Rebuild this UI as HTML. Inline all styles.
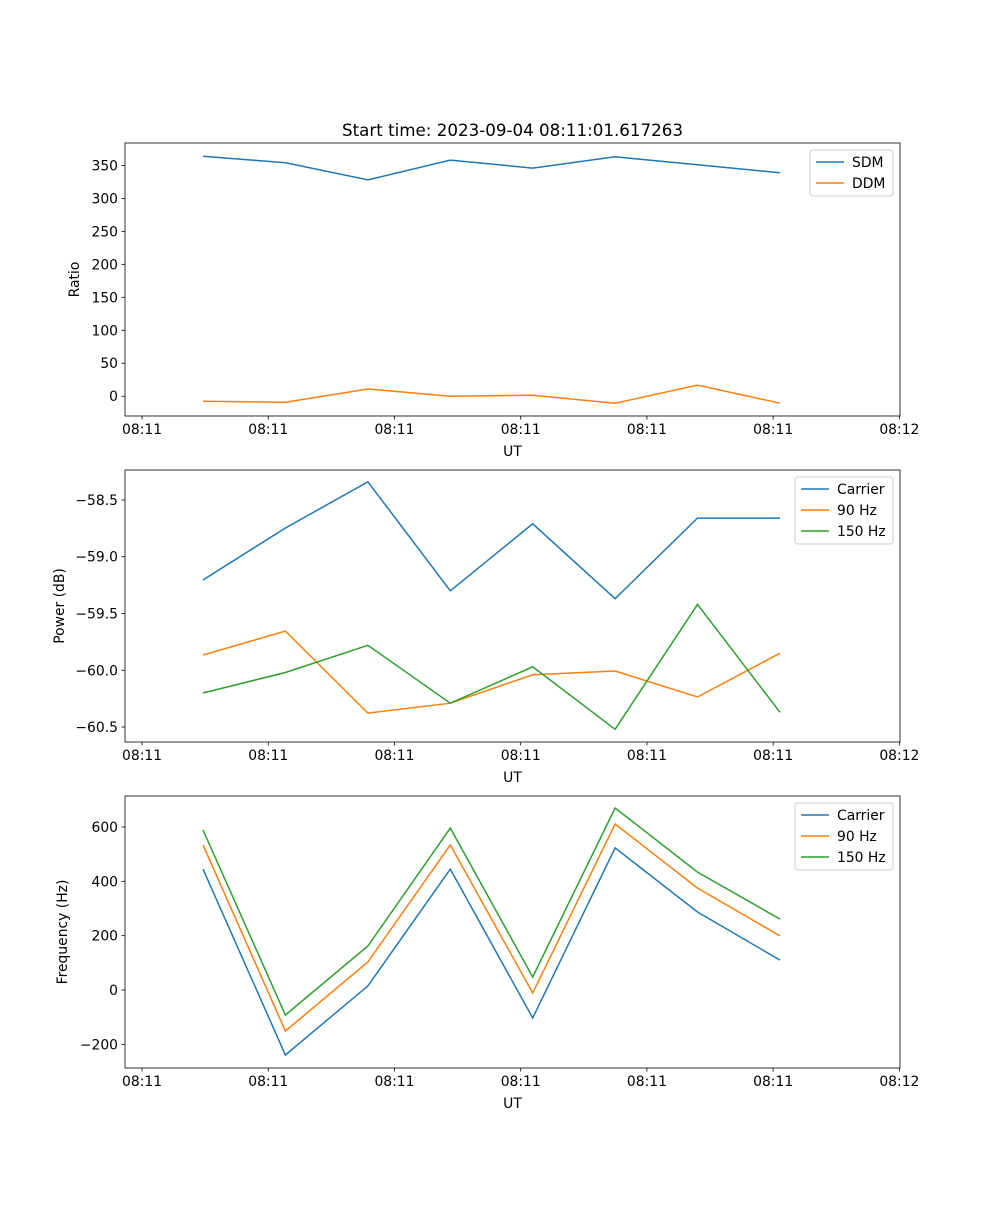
<!DOCTYPE html>
<html><head><meta charset="utf-8"><style>
body{margin:0;background:#fff}
svg{font-family:"DejaVu Sans","Liberation Sans",sans-serif}
</style></head><body>
<svg id="c" width="1000" height="1200" xmlns="http://www.w3.org/2000/svg"></svg>
<script>
const times=[4.83,11.36,17.89,24.42,30.95,37.48,44.01,50.54];
const xTickVals=[0,10,20,30,40,50,60];
const xTickLabels=["08:11","08:11","08:11","08:11","08:11","08:11","08:12"];
const sdm=[364,354,328,358,346,363,351,339];
const ddm=[-7.6,-9,11,0,1.5,-10.6,16.7,-10.6];
const powCarrier=[-59.205,-58.747,-58.34,-59.30,-58.71,-59.37,-58.66,-58.66];
const pow90=[-59.866,-59.655,-60.377,-60.29,-60.04,-60.007,-60.236,-59.85];
const pow150=[-60.20,-60.02,-59.78,-60.29,-59.97,-60.52,-59.42,-60.37];
const freqCarrier=[445,-239,15,445,-103,523,287,110];
const freq90=[534,-151,103,534,-11,611,375,199];
const freq150=[589,-92,162,596,48,670,434,261];
const ratioTicks=[0,50,100,150,200,250,300,350];
const powTicks=[-60.5,-60.0,-59.5,-59.0,-58.5];
const freqTicks=[-200,0,200,400,600];

const NS="http://www.w3.org/2000/svg";
const svg=document.getElementById('c');
function el(t,a,p){const e=document.createElementNS(NS,t);for(const k in a)e.setAttribute(k,a[k]);(p||svg).appendChild(e);return e;}
const L=125,R=900,xMin=-1.35,xMax=60.05;
const xs=v=>L+(v-xMin)/(xMax-xMin)*(R-L);
const FS=13.9;

function panel(name,top,bot,yMin,yMax,yTicks,fmt,ylabel,series,legend,title){
  const g=el('g',{});
  
  
  const ys=v=>bot-(v-yMin)/(yMax-yMin)*(bot-top);
  series.forEach(s=>{
    const pts=times.map((t,i)=>xs(t).toFixed(1)+','+ys(s.vals[i]).toFixed(1)).join(' ');
    const pl=el('polyline',{points:pts,fill:'none',stroke:s.color,'stroke-width':1.5},g);
    
    
  });
  const fr=el('rect',{x:L,y:top,width:R-L,height:bot-top,fill:'none',stroke:'#000','stroke-width':0.8},g);
  
  
  xTickVals.forEach((v,i)=>{
    const x=xs(v);
    el('line',{x1:x,x2:x,y1:bot,y2:bot+3.5,stroke:'#000','stroke-width':0.8},g);
    const t=el('text',{x:x,y:bot+18,'font-size':FS,'text-anchor':'middle'},g);
    t.textContent=xTickLabels[i];
    
    
  });
  yTicks.forEach(v=>{
    const y=ys(v);
    el('line',{x1:L,x2:L-3.5,y1:y,y2:y,stroke:'#000','stroke-width':0.8},g);
    const t=el('text',{x:L-7,y:y+5,'font-size':FS,'text-anchor':'end'},g);
    t.textContent=fmt(v);
    
    
  });
  const xl=el('text',{x:(L+R)/2,y:bot+40,'font-size':FS,'text-anchor':'middle'},g);
  xl.textContent='UT';
  
  
  const cy=(top+bot)/2;
  const yl=el('text',{x:0,y:0,'font-size':FS,'text-anchor':'middle',transform:`translate(${legend.ylx},${cy}) rotate(-90)`},g);
  yl.textContent=ylabel;
  
  
  if(title){
    const tt=el('text',{x:(L+R)/2,y:top-7,'font-size':16.7,'text-anchor':'middle'},g);
    tt.textContent=title;
    
    
  }
  const lg=el('g',{},g);
  
  
  el('rect',{x:legend.x,y:top+7,width:893-legend.x,height:series.length*21+4,rx:3,fill:'#fff',stroke:'#ccc','stroke-width':1},lg);
  series.forEach((s,i)=>{
    const y=top+19+i*21;
    el('line',{x1:legend.x+6,x2:legend.x+34,y1:y,y2:y,stroke:s.color,'stroke-width':1.5},lg);
    const t=el('text',{x:legend.x+42,y:y+5,'font-size':FS},lg);
    t.textContent=s.label;
    
    
  });
}
const B='#1f77b4',O='#ff7f0e',G='#2ca02c';
panel('ratio',143,416,-30,384,ratioTicks,v=>String(v),'Ratio',
  [{key:'sdm',label:'SDM',vals:sdm,color:B},{key:'ddm',label:'DDM',vals:ddm,color:O}],
  {x:810,ylx:79},'Start time: 2023-09-04 08:11:01.617263');
panel('power',470,742,-60.632,-58.236,powTicks,v=>(v<0?'\u2212':'')+Math.abs(v).toFixed(1),'Power (dB)',
  [{key:'carrier',label:'Carrier',vals:powCarrier,color:B},{key:'90hz',label:'90 Hz',vals:pow90,color:O},{key:'150hz',label:'150 Hz',vals:pow150,color:G}],
  {x:795,ylx:64});
panel('frequency',796,1068,-287,714,freqTicks,v=>(v<0?'\u2212':'')+Math.abs(v),'Frequency (Hz)',
  [{key:'carrier',label:'Carrier',vals:freqCarrier,color:B},{key:'90hz',label:'90 Hz',vals:freq90,color:O},{key:'150hz',label:'150 Hz',vals:freq150,color:G}],
  {x:795,ylx:67});
</script>
</body></html>
